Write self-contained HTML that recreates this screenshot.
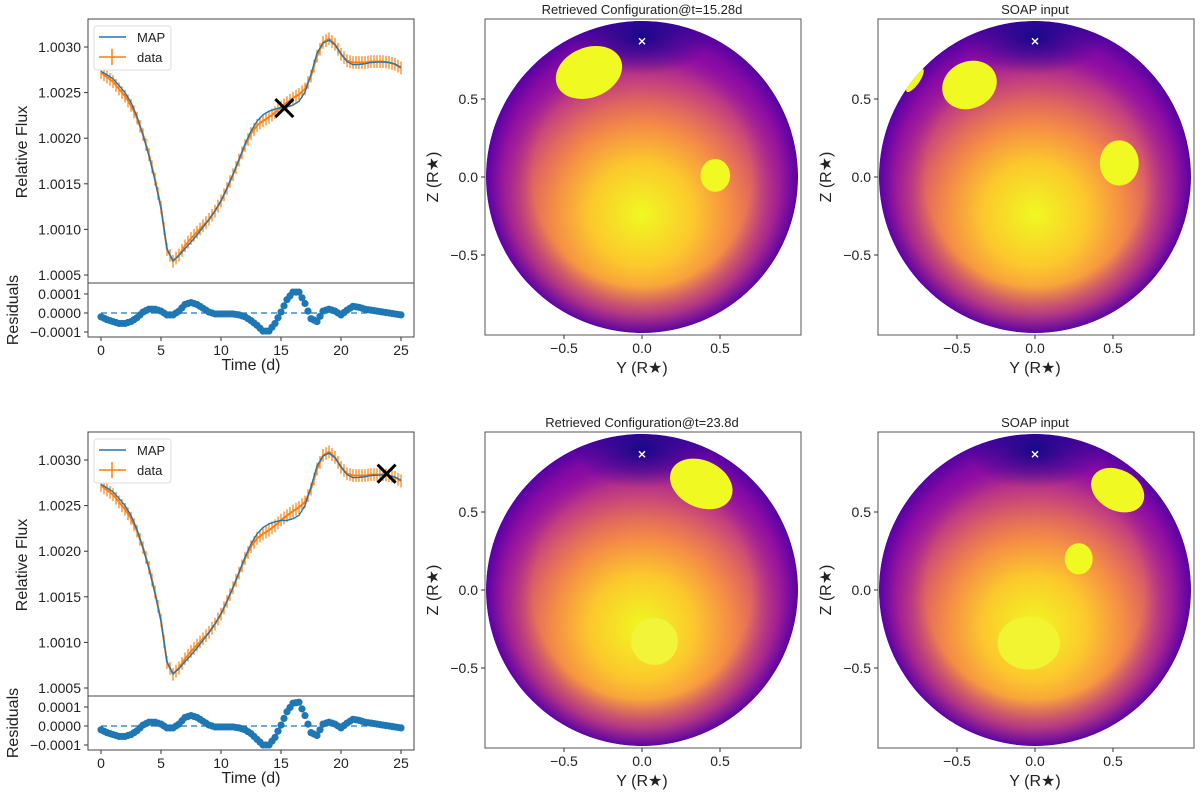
<!DOCTYPE html>
<html><head><meta charset="utf-8"><style>
body{margin:0;background:#fff}
svg text{font-family:"Liberation Sans","DejaVu Sans",sans-serif;fill:#222}
</style></head><body>
<svg id="fig" width="1200" height="790" viewBox="0 0 1200 790" xmlns="http://www.w3.org/2000/svg">
<defs>
<radialGradient id="base" cx="0.5" cy="0.62" r="0.62" gradientUnits="objectBoundingBox">
<stop offset="0" stop-color="#f0f921"/>
<stop offset="0.27" stop-color="#fcc82c"/>
<stop offset="0.45" stop-color="#f68f44"/>
<stop offset="0.57" stop-color="#e26a5c"/>
<stop offset="0.7" stop-color="#c23d80"/>
<stop offset="0.85" stop-color="#8f0da4"/>
<stop offset="1" stop-color="#3e049c"/>
</radialGradient>
<radialGradient id="limb" cx="0.5" cy="0.5" r="0.5">
<stop offset="0.7" stop-color="#8a09a5" stop-opacity="0"/>
<stop offset="0.88" stop-color="#8a09a5" stop-opacity="0.55"/>
<stop offset="1" stop-color="#5402a3" stop-opacity="0.95"/>
</radialGradient>
<radialGradient id="pole" cx="0.5" cy="0.5" r="0.5">
<stop offset="0" stop-color="#0d0887" stop-opacity="0.9"/>
<stop offset="1" stop-color="#0d0887" stop-opacity="0"/>
</radialGradient>
</defs>
</svg>
<script>
// ---- light curve data (t = 0..25 step 0.5) ----
const times = [0,0.5,1,1.5,2,2.5,3,3.5,4,4.5,5,5.5,6,6.5,7,7.5,8,8.5,9,9.5,10,10.5,11,11.5,12,12.5,13,13.5,14,14.5,15,15.5,16,16.5,17,17.5,18,18.5,19,19.5,20,20.5,21,21.5,22,22.5,23,23.5,24,24.5,25];
const fluxTop = [1.00272,1.00267,1.00262,1.00254,1.00246,1.00236,1.00222,1.00204,1.00182,1.00155,1.00124,1.00078,1.00065,1.00072,1.00082,1.0009,1.00097,1.00104,1.00111,1.0012,1.00131,1.00145,1.0016,1.00176,1.00192,1.00205,1.00214,1.00219,1.00223,1.00228,1.00234,1.00239,1.00244,1.00248,1.00254,1.00268,1.0029,1.00305,1.00309,1.00303,1.00292,1.00285,1.00283,1.00283,1.00283,1.00284,1.00284,1.00284,1.00283,1.00281,1.00277];
const residTop = [-0.2,-0.35,-0.45,-0.55,-0.55,-0.45,-0.25,0.05,0.2,0.2,0.1,-0.1,-0.1,0.1,0.45,0.55,0.45,0.25,0.05,-0.05,-0.05,-0.05,-0.05,-0.1,-0.2,-0.4,-0.65,-0.95,-0.95,-0.55,0.05,0.7,1.1,1.1,0.5,-0.3,-0.45,0.1,0.2,0.1,-0.1,0.15,0.35,0.3,0.2,0.15,0.1,0.05,0.0,-0.05,-0.1];
const fluxBot = fluxTop.slice();
const residBot = [-0.2,-0.35,-0.45,-0.55,-0.55,-0.45,-0.25,0.05,0.2,0.2,0.1,-0.1,-0.1,0.1,0.45,0.55,0.45,0.25,0.05,-0.05,-0.05,-0.05,-0.05,-0.1,-0.2,-0.4,-0.7,-1.0,-1.0,-0.6,0.05,0.75,1.2,1.25,0.55,-0.35,-0.5,0.1,0.2,0.1,-0.1,0.15,0.35,0.3,0.2,0.15,0.1,0.05,0.0,-0.05,-0.1];
const fluxTicks = [1.0005,1.0010,1.0015,1.0020,1.0025,1.0030];
const fluxTickLabels = ["1.0005","1.0010","1.0015","1.0020","1.0025","1.0030"];
const residTicks = [0.0001,0,-0.0001];
const residTickLabels = ["0.0001","0.0000","\u22120.0001"];
const timeTicks = [0,5,10,15,20,25];
const markTop = [15.28,1.00233];
const markBot = [23.8,1.00285];
// ---- disk spots: [y, z, rx, ry, rotDeg, color] ----
const spotsRet1 = [[-0.34,0.67,0.22,0.16,-22,"#f0f921"],[0.47,0.01,0.095,0.105,0,"#f0f921"]];
const spotsSoap1 = [[-0.42,0.59,0.18,0.15,-25,"#f0f921"],[-0.77,0.62,0.03,0.09,35,"#f0f921"],[0.54,0.09,0.125,0.145,0,"#f0f921"]];
const spotsRet2 = [[0.38,0.68,0.21,0.15,25,"#f0f921"],[0.08,-0.33,0.15,0.15,0,"#f2f43a"]];
const spotsSoap2 = [[0.53,0.64,0.18,0.13,28,"#f0f921"],[0.28,0.2,0.09,0.1,0,"#f0f921"],[-0.04,-0.34,0.2,0.17,0,"#f2f432"]];
const diskTicks = [-0.5,0,0.5];
const diskTickLabels = ["\u22120.5","0.0","0.5"];

const NS="http://www.w3.org/2000/svg";
const svg=document.getElementById('fig');
function el(tag,attrs,parent){const e=document.createElementNS(NS,tag);for(const k in attrs)e.setAttribute(k,attrs[k]);(parent||svg).appendChild(e);return e;}
function txt(s,x,y,size,anchor,parent,extra){const t=el('text',Object.assign({x:x,y:y,'font-size':size,'text-anchor':anchor||'middle'},extra||{}),parent);t.textContent=s;return t;}

function drawLC(oy, flux, resid, mark, idx){
  const g=el('g',{});
  
  
  const xT=t=>101+12*t;
  const yF=f=>oy+47+(1.0030-f)*91200;
  const yR=r=>oy+313-r*190000;
  const L=88,R=414,T=oy+19,M=oy+283,B=oy+337;
  fluxTicks.forEach((v,i)=>{const y=yF(v);el('line',{x1:L-4,x2:L,y1:y,y2:y,stroke:'#333'},g);
    const t=txt(fluxTickLabels[i],L-7,y+5,14,'end',g);});
  residTicks.forEach((v,i)=>{const y=yR(v);el('line',{x1:L-4,x2:L,y1:y,y2:y,stroke:'#333'},g);
    const t=txt(residTickLabels[i],L-7,y+5,14,'end',g);});
  timeTicks.forEach(v=>{const x=xT(v);el('line',{x1:x,x2:x,y1:B,y2:B+4,stroke:'#333'},g);
    const t=txt(String(v),x,B+18,14,'middle',g);});
  const cid='clip'+idx;const cp=el('clipPath',{id:cid},g);el('rect',{x:L,y:T,width:R-L,height:M-T},cp);
  const cid2='clipr'+idx;const cp2=el('clipPath',{id:cid2},g);el('rect',{x:L,y:M,width:R-L,height:B-M},cp2);
  const pg=el('g',{'clip-path':'url(#'+cid+')'},g);
  flux.forEach((f,i)=>{const x=xT(times[i]);const e=el('line',{x1:x,x2:x,y1:yF(f+0.00007),y2:yF(f-0.00007),stroke:'#ff7f0e','stroke-width':1.2},pg);
    
    if(i<flux.length-1){const fm=(f+flux[i+1])/2;const xm=xT((times[i]+times[i+1])/2);
      const e2=el('line',{x1:xm,x2:xm,y1:yF(fm+0.00007),y2:yF(fm-0.00007),stroke:'#ff7f0e','stroke-width':1.2},pg);
      }});
  const dpath=flux.map((f,i)=>(i?'L':'M')+xT(times[i]).toFixed(1)+','+yF(f).toFixed(1)).join(' ');
  const dl=el('path',{d:dpath,fill:'none',stroke:'#ff7f0e','stroke-width':2},pg);
  
  const mpath=flux.map((f,i)=>(i?'L':'M')+xT(times[i]).toFixed(1)+','+yF(f-resid[i]*0.7e-4).toFixed(1)).join(' ');
  const ml=el('path',{d:mpath,fill:'none',stroke:'#1f77b4','stroke-width':1.4},pg);
  
  const mx=xT(mark[0]),my=yF(mark[1]);
  const xm=el('path',{d:`M${mx-9},${my-9}L${mx+9},${my+9}M${mx-9},${my+9}L${mx+9},${my-9}`,stroke:'#000','stroke-width':3},g);
  
  const rg=el('g',{'clip-path':'url(#'+cid2+')'},g);
  el('line',{x1:xT(0),x2:xT(25),y1:yR(0),y2:yR(0),stroke:'#1f77b4','stroke-dasharray':'6,4','stroke-width':1.3},rg);
  resid.forEach((r,i)=>{const c=el('circle',{cx:xT(times[i]),cy:yR(r*1e-4),r:3.6,fill:'#1f77b4'},rg);
    
    if(i<resid.length-1){const c2=el('circle',{cx:xT((times[i]+times[i+1])/2),cy:yR((r+resid[i+1])/2*1e-4),r:3.6,fill:'#1f77b4'},rg);
      }});
  el('rect',{x:L,y:T,width:R-L,height:B-T,fill:'none',stroke:'#444'},g);
  el('line',{x1:L,x2:R,y1:M,y2:M,stroke:'#444'},g);
  const lg=el('g',{},g);
  el('rect',{x:94,y:oy+26,width:77,height:44,rx:3,fill:'#fff',stroke:'#ddd'},lg);
  el('line',{x1:99,x2:126,y1:oy+37,y2:oy+37,stroke:'#1f77b4','stroke-width':1.5},lg);
  txt('MAP',137,oy+42,13,'start',lg);
  el('line',{x1:99,x2:126,y1:oy+57,y2:oy+57,stroke:'#ff7f0e','stroke-width':1.5},lg);
  el('line',{x1:112,x2:112,y1:oy+49,y2:oy+65,stroke:'#ff7f0e','stroke-width':1.5},lg);
  txt('data',137,oy+62,13,'start',lg);
  const yl=txt('Relative Flux',0,0,16,'middle',g,{transform:`translate(27,${oy+152}) rotate(-90)`});
  
  const rl=txt('Residuals',0,0,16,'middle',g,{transform:`translate(18,${oy+310}) rotate(-90)`});
  
  const xl=txt('Time (d)',251,oy+370,16,'middle',g);
  
}

function drawDisk(L,oy,spots,title,idx){
  const g=el('g',{});
  
  
  const T=oy+19,W=316,cx=L+157,cy=oy+177,S=156;
  const X=v=>cx+v*S, Y=v=>cy-v*S;
  const cid='dclip'+idx;const cp=el('clipPath',{id:cid},g);el('circle',{cx:cx,cy:cy,r:S},cp);
  const dg=el('g',{'clip-path':'url(#'+cid+')'},g);
  const d=el('circle',{cx:cx,cy:cy,r:S,fill:'url(#base)'},dg);
  
  el('circle',{cx:cx,cy:cy,r:S,fill:'url(#limb)'},dg);
  el('ellipse',{cx:cx,cy:Y(0.9),rx:S*0.45,ry:S*0.25,fill:'url(#pole)'},dg);
  spots.forEach(s=>{const e=el('ellipse',{cx:X(s[0]),cy:Y(s[1]),rx:s[2]*S,ry:s[3]*S,fill:s[5],transform:`rotate(${s[4]} ${X(s[0])} ${Y(s[1])})`},dg);
    });
  const px=X(0),py=Y(0.87);
  el('path',{d:`M${px-3},${py-3}L${px+3},${py+3}M${px-3},${py+3}L${px+3},${py-3}`,stroke:'#fff','stroke-width':1.5},g);
  el('rect',{x:L,y:T,width:W,height:W,fill:'none',stroke:'#555'},g);
  diskTicks.forEach((v,i)=>{
    el('line',{x1:X(v),x2:X(v),y1:T+W,y2:T+W+4,stroke:'#333'},g);
    const a=txt(diskTickLabels[i],X(v),T+W+18,14,'middle',g);
    el('line',{x1:L-4,x2:L,y1:Y(v),y2:Y(v),stroke:'#333'},g);
    const b=txt(diskTickLabels[i],L-7,Y(v)+5,14,'end',g);
  });
  const xl=txt('Y (R\u2605)',cx,T+W+38,16,'middle',g);
  const yl=txt('Z (R\u2605)',0,0,16,'middle',g,{transform:`translate(${L-47},${cy}) rotate(-90)`});
  const tt=txt(title,cx,T-5,13,'middle',g);
}

drawLC(0,fluxTop,residTop,markTop,1);
drawLC(413,fluxBot,residBot,markBot,2);
drawDisk(485,0,spotsRet1,'Retrieved Configuration@t=15.28d',1);
drawDisk(878,0,spotsSoap1,'SOAP input',2);
drawDisk(485,413,spotsRet2,'Retrieved Configuration@t=23.8d',3);
drawDisk(878,413,spotsSoap2,'SOAP input',4);
</script>
</body></html>
